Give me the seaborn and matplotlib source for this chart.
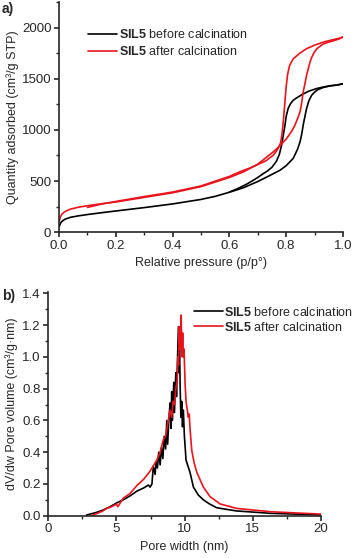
import numpy as np
import pandas as pd
import matplotlib
matplotlib.use("Agg")
import matplotlib.pyplot as plt
from matplotlib.ticker import MultipleLocator, FormatStrFormatter
import seaborn as sns

# --- a) N2 isotherms (relative pressure vs quantity adsorbed) ---
blk_ads_p = [0.0, 0.005, 0.01, 0.02, 0.04, 0.07, 0.1, 0.15, 0.2, 0.3, 0.4, 0.5, 0.55, 0.6, 0.65,
             0.7, 0.743, 0.778, 0.8, 0.825, 0.84, 0.849, 0.855, 0.86, 0.866, 0.872, 0.88, 0.89,
             0.9, 0.91, 0.93, 0.955, 0.98, 1.0]
blk_ads_q = [50, 85, 105, 125, 145, 160, 172, 190, 207, 240, 276, 320, 350, 390, 435,
             495, 555, 605, 650, 722, 810, 884, 960, 1047, 1130, 1210, 1285, 1340,
             1370, 1392, 1415, 1432, 1440, 1452]
blk_des_p = [1.0, 0.98, 0.955, 0.93, 0.907, 0.88, 0.855, 0.835, 0.825, 0.815, 0.807, 0.80, 0.796,
             0.79, 0.784, 0.776, 0.766, 0.75, 0.735, 0.719, 0.70, 0.68, 0.66, 0.63, 0.6]
blk_des_q = [1452, 1440, 1432, 1420, 1405, 1380, 1345, 1310, 1291, 1255, 1210, 1130, 1047,
             950, 852, 760, 695, 635, 600, 572, 535, 500, 468, 427, 392]

red_ads_p = [0.0, 0.005, 0.01, 0.02, 0.04, 0.07, 0.1, 0.15, 0.2, 0.3, 0.4, 0.5, 0.6, 0.65, 0.7,
             0.755, 0.78, 0.802, 0.82, 0.831, 0.84, 0.849, 0.855, 0.86, 0.866, 0.872, 0.878,
             0.884, 0.89, 0.9, 0.91, 0.93, 0.95, 0.97, 0.99, 1.0]
red_ads_q = [100, 150, 175, 200, 225, 245, 258, 278, 295, 340, 385, 445, 535, 590, 665,
             786, 850, 917, 990, 1047, 1110, 1177, 1270, 1372, 1450, 1535, 1600,
             1664, 1710, 1765, 1800, 1840, 1860, 1875, 1895, 1910]
red_des_p = [1.0, 0.989, 0.96, 0.931, 0.9, 0.872, 0.85, 0.825, 0.812, 0.805, 0.80, 0.795, 0.79,
             0.785, 0.78, 0.772, 0.765, 0.755, 0.73, 0.696, 0.67, 0.637, 0.6, 0.5, 0.4, 0.3, 0.2,
             0.15, 0.1]
red_des_q = [1910, 1899, 1880, 1860, 1830, 1795, 1755, 1697, 1630, 1540, 1420, 1250, 1080,
             950, 870, 820, 790, 754, 700, 656, 625, 591, 545, 452, 392, 348, 300,
             275, 242]

# --- b) pore size distributions ---
blk_w = [2.8, 3.5, 4.0, 4.5, 5.0, 5.5, 6.0, 6.5, 7.0, 7.34, 7.46, 7.6, 7.7, 7.83, 7.9, 8.0, 8.1,
         8.2, 8.3, 8.4, 8.5, 8.6, 8.69, 8.75, 8.85, 8.93, 9.0, 9.05, 9.1, 9.2, 9.25, 9.35, 9.4,
         9.54, 9.58, 9.62, 9.67, 9.72, 9.78, 9.84, 9.9, 9.98, 10.1, 10.4, 10.64, 11.0, 11.37,
         11.8, 12.35, 13.8, 16.3, 20.0]
blk_v = [0.004, 0.02, 0.035, 0.055, 0.08, 0.1, 0.125, 0.155, 0.175, 0.193, 0.18, 0.2, 0.31,
         0.26, 0.34, 0.3, 0.4, 0.32, 0.43, 0.36, 0.5, 0.42, 0.6, 0.45, 0.62, 0.71, 0.55, 0.78,
         0.6, 0.84, 0.65, 0.9, 0.75, 1.19, 0.9, 1.1, 0.8, 0.62, 0.72, 0.56, 0.665, 0.5, 0.35,
         0.27, 0.18, 0.13, 0.1, 0.075, 0.05, 0.03, 0.015, 0.005]
red_w = [3.18, 3.6, 4.0, 4.28, 4.6, 5.0, 5.1, 5.5, 6.0, 6.5, 7.0, 7.46, 7.95, 8.2, 8.44, 8.6,
         8.8, 8.93, 9.05, 9.15, 9.25, 9.35, 9.45, 9.5, 9.55, 9.6, 9.65, 9.7, 9.74, 9.8, 9.85,
         9.9, 9.95, 10.03, 10.1, 10.2, 10.27, 10.33, 10.4, 10.52, 10.7, 10.9, 11.37, 11.86,
         12.6, 13.8, 16.3, 20.0]
red_v = [0.0, 0.015, 0.03, 0.046, 0.055, 0.073, 0.057, 0.11, 0.14, 0.19, 0.23, 0.28, 0.35,
         0.4, 0.48, 0.5, 0.6, 0.665, 0.62, 0.72, 0.7, 0.8, 0.85, 1.0, 0.95, 1.19, 1.05, 1.15,
         1.263, 1.0, 1.15, 1.0, 1.05, 0.83, 0.72, 0.66, 0.62, 0.64, 0.54, 0.41, 0.33, 0.27,
         0.18, 0.12, 0.074, 0.046, 0.025, 0.01]

sns.set_style("ticks")
plt.rcParams['font.family'] = ['Liberation Sans', 'DejaVu Sans']
plt.rcParams['mathtext.fontset'] = 'custom'
plt.rcParams['mathtext.rm'] = 'Liberation Sans'
plt.rcParams['mathtext.bf'] = 'Liberation Sans:bold'
plt.rcParams['axes.linewidth'] = 1.2
plt.rcParams['xtick.major.width'] = 1.2
plt.rcParams['ytick.major.width'] = 1.2
plt.rcParams['xtick.minor.width'] = 1.0
plt.rcParams['ytick.minor.width'] = 1.0
plt.rcParams['xtick.major.size'] = 3.5
plt.rcParams['ytick.major.size'] = 3.5
plt.rcParams['xtick.minor.size'] = 2.2
plt.rcParams['ytick.minor.size'] = 2.2

fig = plt.figure(figsize=(3.54, 5.58), dpi=100)
ax1 = fig.add_axes([0.1667, 0.584, 0.802, 0.412])
ax2 = fig.add_axes([0.1364, 0.0758, 0.7706, 0.4014])

lab_b = r"$\bf{SIL5}$ before calcination"
lab_a = r"$\bf{SIL5}$ after calcination"
red = "#e8141c"
lw = 1.2

sns.lineplot(x=blk_ads_p, y=blk_ads_q, ax=ax1, color="black", lw=lw, sort=False, label=lab_b)
sns.lineplot(x=blk_des_p, y=blk_des_q, ax=ax1, color="black", lw=lw, sort=False)
sns.lineplot(x=red_ads_p, y=red_ads_q, ax=ax1, color=red, lw=lw, sort=False, label=lab_a)
sns.lineplot(x=red_des_p, y=red_des_q, ax=ax1, color=red, lw=lw, sort=False)

ax1.set_xlim(0, 1.0)
ax1.set_ylim(0, 2250)
ax1.xaxis.set_major_locator(MultipleLocator(0.2))
ax1.xaxis.set_minor_locator(MultipleLocator(0.1))
ax1.yaxis.set_major_locator(MultipleLocator(500))
ax1.yaxis.set_minor_locator(MultipleLocator(250))
ax1.xaxis.set_major_formatter(FormatStrFormatter('%.1f'))
ax1.set_xlabel("Relative pressure (p/p°)", fontsize=9, labelpad=4)
ax1.set_ylabel("Quantity adsorbed (cm³/g STP)", fontsize=9, labelpad=2)
ax1.tick_params(labelsize=9.5, pad=2)
ax1.legend(loc="upper left", bbox_to_anchor=(0.085, 0.91), frameon=False, fontsize=9,
           handlelength=2.3, handletextpad=0.15, labelspacing=0.35, borderaxespad=0)
sns.despine(ax=ax1)

sns.lineplot(x=blk_w, y=blk_v, ax=ax2, color="black", lw=lw, sort=False, label=lab_b)
sns.lineplot(x=red_w, y=red_v, ax=ax2, color=red, lw=lw, sort=False, label=lab_a)
ax2.set_xlim(0, 20)
ax2.set_ylim(0, 1.41)
ax2.xaxis.set_major_locator(MultipleLocator(5))
ax2.xaxis.set_minor_locator(MultipleLocator(2.5))
ax2.yaxis.set_major_locator(MultipleLocator(0.2))
ax2.yaxis.set_minor_locator(MultipleLocator(0.1))
ax2.yaxis.set_major_formatter(FormatStrFormatter('%.1f'))
ax2.set_xlabel("Pore width (nm)", fontsize=9, labelpad=4)
ax2.set_ylabel("dV/dw Pore volume (cm³/g·nm)", fontsize=9, labelpad=3)
ax2.tick_params(labelsize=9.5, pad=2)
ax2.legend(loc="upper left", bbox_to_anchor=(0.515, 0.96), frameon=False, fontsize=9,
           handlelength=2.3, handletextpad=0.15, labelspacing=0.15, borderaxespad=0)
sns.despine(ax=ax2)

fig.text(0.005, 0.983, "a)", fontsize=10, fontweight="bold", va="center")
fig.text(0.005, 0.47, "b)", fontsize=10, fontweight="bold", va="center")

fig.savefig("out.png", dpi=100)
